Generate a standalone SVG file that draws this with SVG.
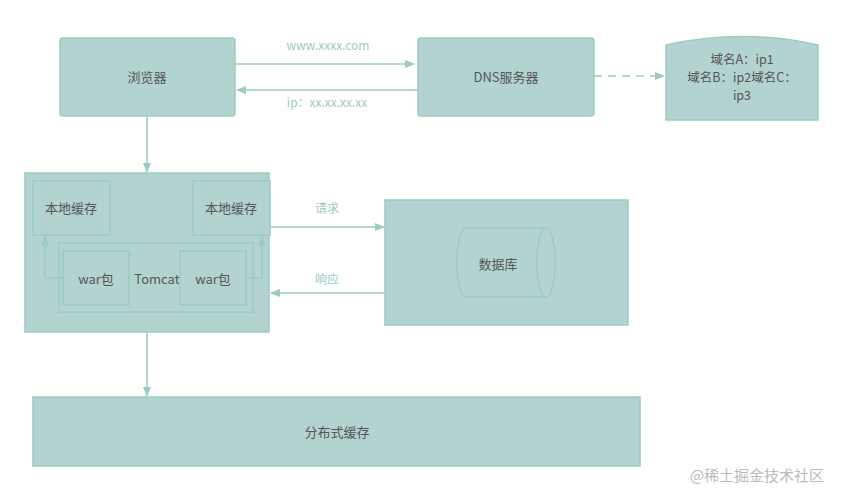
<svg xmlns="http://www.w3.org/2000/svg" width="842" height="491" viewBox="0 0 842 491">
<style>
.b{fill:#b3d3d0;stroke:#9dcac3;stroke-width:1.5}
.t{font-family:"Microsoft YaHei","Noto Sans CJK SC","Liberation Sans",sans-serif;font-size:13px;fill:#555;text-anchor:middle}
.l{font-family:"Noto Sans CJK SC","Liberation Sans",sans-serif;font-size:12px;fill:#9dcac3;text-anchor:middle}
.c{stroke:#9dcac3;stroke-width:1.5;fill:none}
</style>
<defs><marker id="a" markerWidth="10" markerHeight="8" refX="9" refY="4" orient="auto" markerUnits="userSpaceOnUse"><path d="M0,0L10,4L0,8z" fill="#9dcac3"/></marker></defs>
<rect width="842" height="491" fill="#fff"/>
<g id="browser"><rect class="b" x="60" y="38" width="175" height="78" rx="3"/><text class="t" x="147" y="82">浏览器</text></g>
<g id="dns"><rect class="b" x="418" y="38" width="176" height="78" rx="3"/><text class="t" x="506" y="82">DNS服务器</text></g>
<g id="records"><path class="b" d="M666,45Q742,28 818,45V120H666Z"/><text class="t" x="742" y="64" style="font-size:12.5px">域名A：ip1</text><text class="t" x="742" y="82" style="font-size:12.5px">域名B：ip2域名C：</text><text class="t" x="742" y="100" style="font-size:12.5px">ip3</text></g>
<g id="server"><rect class="b" x="25" y="173" width="244" height="159"/>
<g id="cache1"><rect class="b" x="33" y="181" width="77" height="54"/><text class="t" x="71" y="213">本地缓存</text></g>
<g id="cache2"><rect class="b" x="193" y="181" width="77" height="54"/><text class="t" x="231" y="213">本地缓存</text></g>
<g id="tomcat"><rect class="b" x="59" y="243" width="194" height="69"/><text class="t" x="157" y="284">Tomcat</text></g>
<g id="war1"><rect class="b" x="63" y="251" width="66" height="54"/><text class="t" x="96" y="284">war包</text></g>
<g id="war2"><rect class="b" x="180" y="251" width="66" height="54"/><text class="t" x="213" y="284">war包</text></g>
</g>
<g id="db"><rect class="b" x="385" y="200" width="243" height="125"/><path class="b" d="M466,228H546A9,34 0 0 1 546,297H466A9,34 0 0 1 466,228Z"/><path class="c" d="M546,228A9,34 0 0 0 546,297"/><text class="t" x="498" y="269">数据库</text></g>
<g id="dist"><rect class="b" x="33" y="397" width="607" height="69"/><text class="t" x="337" y="437">分布式缓存</text></g>
<g id="connectors">
<line class="c" x1="235" y1="64" x2="414" y2="64" marker-end="url(#a)"/>
<line class="c" x1="418" y1="90" x2="237" y2="90" marker-end="url(#a)"/>
<line class="c" x1="594" y1="76" x2="664" y2="76" stroke-dasharray="8,6" marker-end="url(#a)"/>
<line class="c" x1="147" y1="116" x2="147" y2="172" marker-end="url(#a)"/>
<path class="c" d="M63,278H45V237" marker-end="url(#a)"/>
<path class="c" d="M246,278H262V237" marker-end="url(#a)"/>
<line class="c" x1="270" y1="227" x2="384" y2="227" marker-end="url(#a)"/>
<line class="c" x1="384" y1="293" x2="271" y2="293" marker-end="url(#a)"/>
<line class="c" x1="147" y1="332" x2="147" y2="396" marker-end="url(#a)"/>
</g>
<text class="l" x="328" y="50">www.xxxx.com</text>
<text class="l" x="327" y="107">ip：xx.xx.xx.xx</text>
<text class="l" x="327" y="213">请求</text>
<text class="l" x="327" y="284">响应</text>
<text x="757" y="481" style="font-family:'Noto Sans CJK SC',sans-serif;font-size:15px;fill:#bbb;text-anchor:middle">@稀土掘金技术社区</text>
</svg>
